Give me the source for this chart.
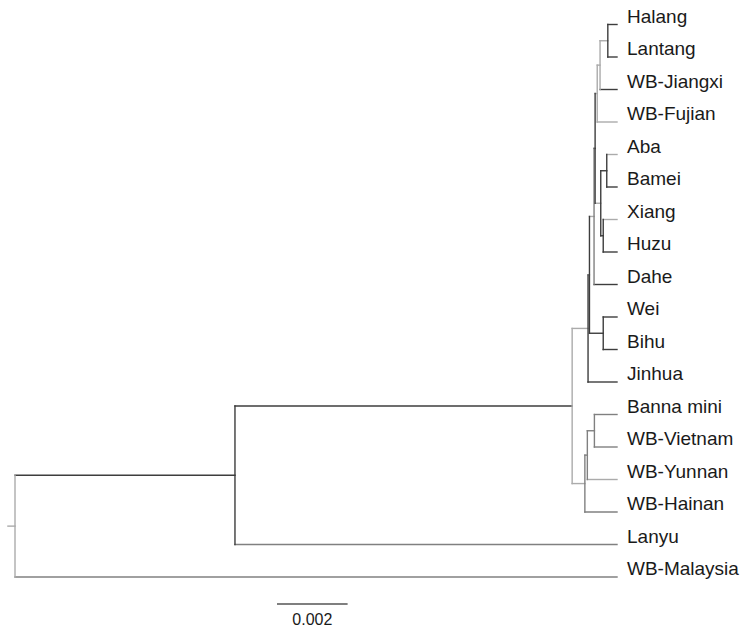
<!DOCTYPE html>
<html>
<head>
<meta charset="utf-8">
<script src="https://cdn.jsdelivr.net/npm/d3@7"></script>
<style>
  body { margin: 0; background: #fff; }
  text { font-family: 'Liberation Sans', Arial, sans-serif; fill: #1a1a1a; }
</style>
</head>
<body>
<div class="holder"></div>
<script>
// tips, top to bottom
const leaves = ['Halang', 'Lantang', 'WB-Jiangxi', 'WB-Fujian', 'Aba', 'Bamei', 'Xiang', 'Huzu',
  'Dahe', 'Wei', 'Bihu', 'Jinhua', 'Banna mini', 'WB-Vietnam', 'WB-Yunnan', 'WB-Hainan',
  'Lanyu', 'WB-Malaysia'];

// internal nodes, their two children and their height above the tips
const nodeNames = ['A', 'B', 'C', 'K', 'L', 'D', 'E', 'F', 'G', 'M', 'H', 'S1', 'S2', 'S3', 'I', 'J', 'R'];
const nodeChildren = [
  ['Halang', 'Lantang'],
  ['A', 'WB-Jiangxi'],
  ['B', 'WB-Fujian'],
  ['Aba', 'Bamei'],
  ['Xiang', 'Huzu'],
  ['K', 'L'],
  ['C', 'D'],
  ['E', 'Dahe'],
  ['Wei', 'Bihu'],
  ['F', 'G'],
  ['M', 'Jinhua'],
  ['Banna mini', 'WB-Vietnam'],
  ['S1', 'WB-Yunnan'],
  ['S2', 'WB-Hainan'],
  ['H', 'S3'],
  ['I', 'Lanyu'],
  ['J', 'WB-Malaysia']
];
const nodeHeights = [0.00026, 0.00048, 0.00056, 0.00029, 0.00039, 0.00046, 0.00062, 0.00065,
  0.00039, 0.00078, 0.00082, 0.00064, 0.00084, 0.00091, 0.00127, 0.01082, 0.01705];
const rootEdge = 0.0002;
const scaleBarValue = 0.002;

// line shading (style only)
const dark = '#3d3d3d';
const mid = '#808080';
const light = '#ababab';
const edgeShade = {
  A: light, B: light, C: light, Aba: light, Xiang: light, D: light, F: light, M: light,
  H: light, 'Banna mini': mid, 'WB-Vietnam': mid, S1: mid, 'WB-Yunnan': light, S2: mid,
  'WB-Hainan': mid, S3: light, Lanyu: mid, 'WB-Malaysia': mid, 'WB-Fujian': light
};
const stemShade = { B: light, C: light, F: mid, S1: mid, S2: mid, S3: mid, I: light, R: light };

const width = 743;
const height = 629;

const svg = d3
  .select('.holder')
  .append('svg')
  .attr('width', width)
  .attr('height', height);

// build the tree
const heightOf = {};
leaves.forEach(l => { heightOf[l] = 0; });
nodeNames.forEach((n, i) => { heightOf[n] = nodeHeights[i]; });
const kids = {};
nodeNames.forEach((n, i) => { kids[n] = nodeChildren[i]; });

const build = name => ({
  name: name,
  h: heightOf[name],
  children: kids[name] ? kids[name].map(build) : undefined
});
const root = d3.hierarchy(build('R'));

const xScale = d3
  .scaleLinear()
  .domain([heightOf.R, 0])
  .range([15, 617]);

const yScale = d3
  .scalePoint()
  .domain(leaves)
  .range([24.5, 577]);

root.eachAfter(d => {
  if (d.children) {
    const first = d.children[0];
    const last = d.children[d.children.length - 1];
    d.top = first.y;
    d.bottom = last.y;
    d.y = (first.y + last.y) / 2;
  } else {
    d.y = yScale(d.data.name);
  }
});

const g = svg.append('g')
  .attr('fill', 'none')
  .attr('stroke-width', 1.4)
  .attr('stroke-linecap', 'square');

// horizontal branches
g.selectAll('.branch')
  .data(root.descendants().filter(d => d.parent))
  .enter()
  .append('line')
  .attr('class', 'branch')
  .attr('x1', d => xScale(d.parent.data.h))
  .attr('x2', d => xScale(d.data.h))
  .attr('y1', d => d.y)
  .attr('y2', d => d.y)
  .attr('stroke', d => edgeShade[d.data.name] || dark);

// vertical connectors
g.selectAll('.stem')
  .data(root.descendants().filter(d => d.children))
  .enter()
  .append('line')
  .attr('class', 'stem')
  .attr('x1', d => xScale(d.data.h))
  .attr('x2', d => xScale(d.data.h))
  .attr('y1', d => d.top)
  .attr('y2', d => d.bottom)
  .attr('stroke', d => stemShade[d.data.name] || dark);

// root stub
g.append('line')
  .attr('x1', xScale(heightOf.R + rootEdge))
  .attr('x2', xScale(heightOf.R))
  .attr('y1', root.y)
  .attr('y2', root.y)
  .attr('stroke', light);

// tip labels
svg.selectAll('.tip')
  .data(root.leaves())
  .enter()
  .append('text')
  .attr('class', 'tip')
  .attr('x', xScale(0) + 10)
  .attr('y', d => d.y)
  .attr('dy', '-0.1em')
  .style('font-size', '19px')
  .text(d => d.data.name);

// scale bar
const barLen = xScale(0) - xScale(scaleBarValue);
const barX = 277;
svg.append('line')
  .attr('x1', barX)
  .attr('x2', barX + barLen)
  .attr('y1', 604)
  .attr('y2', 604)
  .attr('stroke', '#555')
  .attr('stroke-width', 1.4);

svg.append('text')
  .attr('x', barX + barLen / 2)
  .attr('y', 625)
  .attr('text-anchor', 'middle')
  .style('font-size', '16px')
  .text(scaleBarValue);
</script>
</body>
</html>
